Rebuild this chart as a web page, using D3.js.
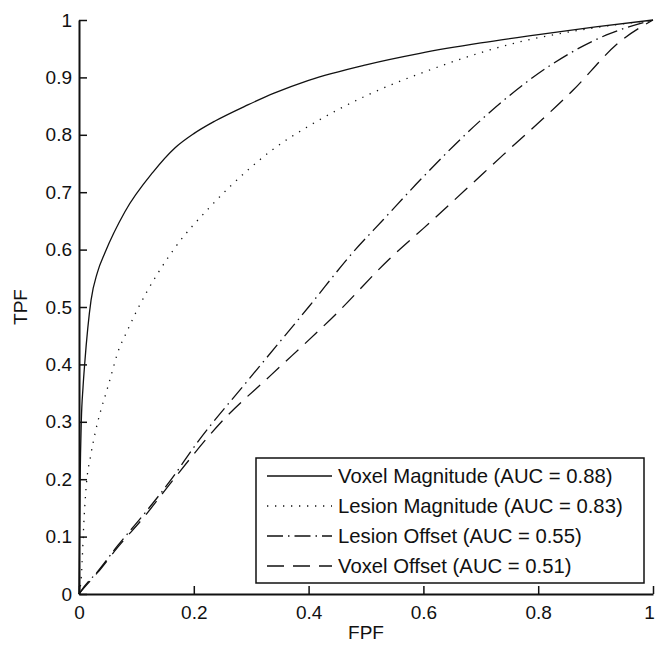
<!DOCTYPE html>
<html>
<head>
<meta charset="utf-8">
<script src="https://cdn.jsdelivr.net/npm/d3@7"></script>
<style>
  html, body { margin: 0; padding: 0; background: #fff; }
  svg { display: block; }
  text { font-family: "Liberation Sans", Arial, Helvetica, sans-serif; fill: #111; }
</style>
</head>
<body>
<svg id="chart" width="655" height="645"></svg>
<script>
// ROC curves: [FPF, TPF] pairs
const voxelMagnitude = [
  [0, 0], [0.001, 0.1], [0.002, 0.2], [0.004, 0.3], [0.007, 0.36], [0.01, 0.402],
  [0.021, 0.512], [0.032, 0.56], [0.045, 0.594], [0.08, 0.666], [0.129, 0.735],
  [0.167, 0.777], [0.2, 0.802], [0.237, 0.824], [0.294, 0.852], [0.341, 0.873],
  [0.4, 0.895], [0.5, 0.922], [0.594, 0.942], [0.7, 0.96], [0.797, 0.974],
  [0.9, 0.988], [1, 1]
];
const lesionMagnitude = [
  [0, 0], [0.004, 0.03], [0.009, 0.135], [0.013, 0.193], [0.02, 0.239],
  [0.028, 0.28], [0.038, 0.32], [0.048, 0.353], [0.056, 0.381], [0.069, 0.425],
  [0.082, 0.454], [0.096, 0.484], [0.103, 0.498], [0.167, 0.603], [0.228, 0.674],
  [0.298, 0.742], [0.341, 0.777], [0.4, 0.815], [0.5, 0.868], [0.603, 0.91],
  [0.768, 0.962], [0.896, 0.986], [1, 1]
];
const lesionOffset = [
  [0, 0], [0.004, 0.006], [0.033, 0.04], [0.068, 0.085], [0.114, 0.14],
  [0.161, 0.2], [0.205, 0.2625], [0.295, 0.373], [0.4, 0.5], [0.478, 0.596],
  [0.53, 0.652], [0.597, 0.724], [0.704, 0.829], [0.818, 0.919], [0.919, 0.974], [1, 1]
];
const voxelOffset = [
  [0, 0], [0.004, 0.005], [0.033, 0.038], [0.068, 0.082], [0.114, 0.135],
  [0.161, 0.195], [0.251, 0.303], [0.333, 0.38], [0.45, 0.49], [0.539, 0.582],
  [0.6, 0.637], [0.739, 0.765], [0.861, 0.878], [0.942, 0.962], [1, 1]
];

const seriesNames = [
  "Voxel Magnitude (AUC = 0.88)",
  "Lesion Magnitude (AUC = 0.83)",
  "Lesion Offset (AUC = 0.55)",
  "Voxel Offset (AUC = 0.51)"
];
const xTicks = [0, 0.2, 0.4, 0.6, 0.8, 1];
const yTicks = [0, 0.1, 0.2, 0.3, 0.4, 0.5, 0.6, 0.7, 0.8, 0.9, 1];
const xLabel = "FPF";
const yLabel = "TPF";

const series = [
  { name: seriesNames[0], values: voxelMagnitude, dash: null },
  { name: seriesNames[1], values: lesionMagnitude, dash: "1.3,6.7" },
  { name: seriesNames[2], values: lesionOffset, dash: "16,5,1.5,5" },
  { name: seriesNames[3], values: voxelOffset, dash: "17,9" }
];

const svg = d3.select("#chart");
const plot = { left: 79, right: 653, top: 20, bottom: 594 };

const x = d3.scaleLinear().domain([0, 1]).range([plot.left, plot.right]);
const y = d3.scaleLinear().domain([0, 1]).range([plot.bottom, plot.top]);

const fmt = d => d === 0 ? "0" : d === 1 ? "1" : d3.format(".1f")(d);

// axes with inward ticks, no box
const xAxis = svg.append("g")
  .attr("transform", `translate(0,${plot.bottom})`)
  .call(d3.axisBottom(x).tickValues(xTicks).tickFormat(fmt).tickSizeInner(-8).tickSizeOuter(0).tickPadding(12));
const yAxis = svg.append("g")
  .attr("transform", `translate(${plot.left},0)`)
  .call(d3.axisLeft(y).tickValues(yTicks).tickFormat(fmt).tickSizeInner(-8).tickSizeOuter(0).tickPadding(7));

[xAxis, yAxis].forEach(g => {
  g.select(".domain").attr("stroke", "#111").attr("stroke-width", 2);
  g.selectAll(".tick line").attr("stroke", "#111").attr("stroke-width", 1.5);
  g.selectAll(".tick text").attr("font-size", 19).attr("fill", "#111")
    .attr("font-family", "'Liberation Sans', Arial, sans-serif");
});
// keep the last x label inside the page edge
xAxis.selectAll(".tick text").filter(d => d === 1).attr("x", -4);

// axis titles
svg.append("text")
  .attr("x", (plot.left + plot.right) / 2)
  .attr("y", 639)
  .attr("text-anchor", "middle")
  .attr("font-size", 19)
  .text(xLabel);
svg.append("text")
  .attr("transform", `translate(27,${(plot.top + plot.bottom) / 2}) rotate(-90)`)
  .attr("text-anchor", "middle")
  .attr("font-size", 19)
  .text(yLabel);

// curves
const line = d3.line()
  .x(d => x(d[0]))
  .y(d => y(d[1]))
  .curve(d3.curveMonotoneX);

svg.append("g").selectAll("path")
  .data(series)
  .join("path")
  .attr("d", d => line(d.values))
  .attr("fill", "none")
  .attr("stroke", "#111")
  .attr("stroke-width", 1.3)
  .attr("stroke-dasharray", d => d.dash);

// legend
const legend = { x0: 256, y0: 458, x1: 644, y1: 583, rowStart: 476, rowStep: 30 };
const lg = svg.append("g");
lg.append("rect")
  .attr("x", legend.x0).attr("y", legend.y0)
  .attr("width", legend.x1 - legend.x0).attr("height", legend.y1 - legend.y0)
  .attr("fill", "#fff").attr("stroke", "#111").attr("stroke-width", 1.5);

const rows = lg.selectAll("g.row")
  .data(series)
  .join("g")
  .attr("class", "row")
  .attr("transform", (d, i) => `translate(0,${legend.rowStart + i * legend.rowStep})`);
rows.append("line")
  .attr("x1", 267).attr("x2", 332).attr("y1", 0).attr("y2", 0)
  .attr("stroke", "#111").attr("stroke-width", 1.3)
  .attr("stroke-dasharray", d => d.dash);
rows.append("text")
  .attr("x", 338).attr("y", 0).attr("dy", "0.36em")
  .attr("font-size", 20.3)
  .text(d => d.name);
</script>
</body>
</html>
